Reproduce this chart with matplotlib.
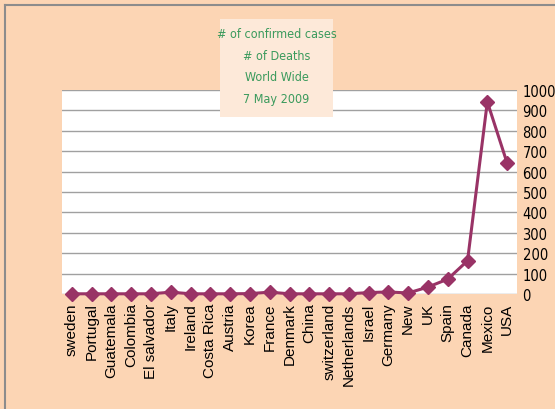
import matplotlib.pyplot as plt
from matplotlib.lines import Line2D
from matplotlib.patches import Rectangle

# --- Daten ---
countries = ["sweden", "Portugal", "Guatemala", "Colombia", "El salvador", "Italy",
             "Ireland", "Costa Rica", "Austria", "Korea", "France", "Denmark", "China",
             "switzerland", "Netherlands", "Israel", "Germany", "New", "UK", "Spain",
             "Canada", "Mexico", "USA"]
cases = [1, 1, 1, 1, 1, 9, 1, 1, 1, 2, 9, 1, 1, 1, 1, 7, 10, 5, 34, 73, 163, 942, 642]
yticks = list(range(0, 1001, 100))
title_lines = ["# of confirmed cases", "# of Deaths", "World Wide", "7 May 2009"]

bg = "#FCD5B4"
fig = plt.figure(figsize=(5.55, 4.1), dpi=100, facecolor=bg)

# Rahmen links/oben
fig.add_artist(Line2D([5 / 555, 5 / 555], [0, 1 - 6 / 410], color="#8C8C8C", lw=1.5))
fig.add_artist(Line2D([5 / 555, 1], [1 - 6 / 410, 1 - 6 / 410], color="#8C8C8C", lw=1.5))

ax = fig.add_axes([62 / 555, 1 - 295 / 410, 455 / 555, 204 / 410])
ax.set_facecolor("white")
x = list(range(len(countries)))
ax.plot(x, cases, color="#993366", lw=2.2, marker="D", ms=7.5, zorder=3, clip_on=False)

ax.set_xlim(-0.5, len(countries) - 0.5)
ax.set_ylim(0, 1000)
ax.set_yticks(yticks)
ax.yaxis.tick_right()
ax.tick_params(axis="y", length=0, pad=4, labelsize=10.5)
for lbl in ax.get_yticklabels():
    lbl.set_fontstretch("condensed")
ax.grid(axis="y", color="#A0A0A0", lw=1)
ax.set_axisbelow(True)
for s in ax.spines.values():
    s.set_visible(False)

ax.set_xticks(x)
ax.set_xticklabels(countries, rotation=90, fontsize=11, va="top",
                   family=["Liberation Sans", "DejaVu Sans"])
ax.tick_params(axis="x", length=0, pad=6)

# Titelkasten
fig.add_artist(Rectangle((220 / 555, 1 - 118 / 410), 113 / 555, 98 / 410,
                         transform=fig.transFigure, facecolor="#FDE9D9",
                         edgecolor="none", zorder=5))
for i, t in enumerate(title_lines):
    fig.text(276.5 / 555, 1 - (35 + i * 21.5) / 410, t, ha="center", va="center",
             color="#3A9A5C", fontsize=9, zorder=6, fontstretch="condensed")

plt.savefig("out.png", dpi=100, facecolor=bg)
